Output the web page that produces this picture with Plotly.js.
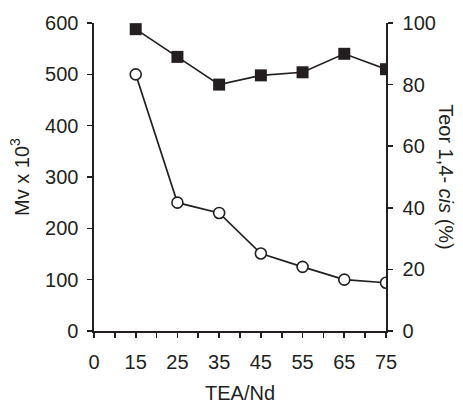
<!DOCTYPE html>
<html>
<head>
<meta charset="utf-8">
<script src="https://cdn.plot.ly/plotly-3.0.1.min.js"></script>
<style>html,body{margin:0;padding:0;background:#fff;}#chart{width:463px;height:404px;}</style>
</head>
<body>
<div id="chart"></div>
<script>
// TEA/Nd ratio categories (tick labels)
const xLabels = ['0', '15', '25', '35', '45', '55', '65', '75'];
// Measured TEA/Nd points
const teaNd = ['15', '25', '35', '45', '55', '65', '75'];
// Mv x 10^3 (left axis, open circles)
const mv = [500, 250, 230, 151, 125, 100, 94];
// 1,4-cis content % (right axis, filled squares)
const cis = [98, 89, 80, 83, 84, 90, 85];

const ink = '#231f20';
const fontFam = '"Liberation Sans", Arial, Helvetica, sans-serif';

const xPos = teaNd.map(l => xLabels.indexOf(l));
const majorVals = xLabels.map((l, i) => i);
const minorVals = xLabels.slice(1).map((l, i) => i + 0.5);

const traces = [
  {
    x: xPos, y: cis, yaxis: 'y2', type: 'scatter', mode: 'lines+markers',
    line: {color: ink, width: 1.7},
    marker: {symbol: 'square', size: 12, color: ink},
    showlegend: false
  },
  {
    x: xPos, y: mv, type: 'scatter', mode: 'lines+markers',
    line: {color: ink, width: 1.7},
    marker: {symbol: 'circle', size: 11, color: '#ffffff', line: {color: ink, width: 1.6}},
    showlegend: false
  }
];

const axisCommon = {
  showline: true, linecolor: ink, linewidth: 1.6,
  ticks: 'outside', ticklen: 5, tickwidth: 1.6, tickcolor: ink,
  showgrid: false, zeroline: false,
  tickfont: {family: fontFam, size: 20, color: ink}
};

const layout = {
  width: 463, height: 404,
  margin: {l: 94, r: 77, t: 23, b: 73, pad: 0},
  paper_bgcolor: '#ffffff', plot_bgcolor: '#ffffff',
  font: {family: fontFam, size: 20, color: ink},
  xaxis: Object.assign({}, axisCommon, {
    range: [0, xLabels.length - 1],
    tickmode: 'array', tickvals: majorVals, ticktext: xLabels,
    ticklabelstandoff: 7,
    minor: {tickmode: 'array', tickvals: minorVals, ticks: 'outside', ticklen: 5, tickwidth: 1.6, tickcolor: ink, showgrid: false},
    title: {text: 'TEA/Nd', font: {family: fontFam, size: 20, color: ink}, standoff: 14}
  }),
  yaxis: Object.assign({}, axisCommon, {
    range: [0, 600], dtick: 100, tick0: 0,
    ticklabelstandoff: 5,
    title: {text: 'Mv x 10<sup>3</sup>', font: {family: fontFam, size: 20, color: ink}, standoff: 10}
  }),
  yaxis2: Object.assign({}, axisCommon, {
    range: [0, 100], dtick: 20, tick0: 0,
    overlaying: 'y', side: 'right', anchor: 'x',
    ticklabelstandoff: 6
  }),
  annotations: [{
    text: 'Teor 1,4- <i>cis</i> (%)',
    xref: 'paper', yref: 'paper', x: 1.205, y: 0.5,
    xanchor: 'center', yanchor: 'middle', textangle: 90, showarrow: false,
    font: {family: fontFam, size: 20, color: ink}
  }]
};

Plotly.newPlot('chart', traces, layout, {displayModeBar: false, staticPlot: true});
</script>
</body>
</html>
